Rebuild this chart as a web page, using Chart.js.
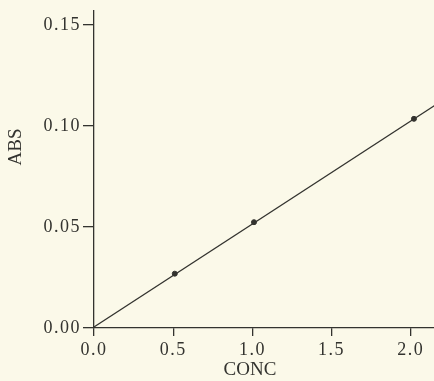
<!DOCTYPE html>
<html lang="en">
<head>
    <meta charset="UTF-8">
    <title>ABS vs CONC</title>
    <script src="https://cdn.jsdelivr.net/npm/chart.js"></script>
    <style>
        html, body {
            margin: 0;
            padding: 0;
            background-color: #fbf9e9;
            overflow: hidden;
        }
        .chart-box {
            position: relative;
            width: 520px;
            height: 381px;
        }
    </style>
</head>
<body>
    <div class="chart-box">
        <canvas id="absChart"></canvas>
    </div>

    <script>
        // measured standards
        const concValues = [0.51, 1.01, 2.02];
        const absValues = [0.0269, 0.0524, 0.1036];

        // calibration line end points
        const lineConc = [0, 2.5];
        const lineAbs = [0.0005, 0.128];

        // axis ticks
        const xTicks = [0, 0.5, 1.0, 1.5, 2.0, 2.5];
        const yTicks = [0, 0.05, 0.10, 0.15];

        const xTitle = 'CONC';
        const yTitle = 'ABS';

        const ink = '#33332f';
        const tickFont = { family: "'Liberation Serif', serif", size: 18, lineHeight: 1 };
        const titleFont = "19px 'Liberation Serif', serif";

        // spaced-out digits like the typewriter labels
        const spacing = {
            id: 'spacing',
            beforeLayout(chart) { chart.ctx.letterSpacing = '1.5px'; },
            beforeDraw(chart) { chart.ctx.letterSpacing = '1.5px'; }
        };

        // axis titles drawn by hand (no letter spacing, off-centre like the original)
        const axisTitles = {
            id: 'axisTitles',
            afterDraw(chart) {
                const c = chart.ctx;
                c.save();
                c.letterSpacing = '0px';
                c.fillStyle = ink;
                c.font = titleFont;
                c.textAlign = 'center';
                c.textBaseline = 'middle';
                c.fillText(xTitle, 250, 370);
                c.translate(16, 147);
                c.rotate(-Math.PI / 2);
                c.fillText(yTitle, 0, 0);
                c.restore();
            }
        };

        const ctx = document.getElementById('absChart').getContext('2d');
        const absChart = new Chart(ctx, {
            type: 'scatter',
            data: {
                datasets: [
                    {
                        label: 'fit',
                        data: lineConc.map((x, i) => ({ x: x, y: lineAbs[i] })),
                        showLine: true,
                        borderColor: ink,
                        borderWidth: 1.3,
                        pointRadius: 0
                    },
                    {
                        label: 'standards',
                        data: concValues.map((x, i) => ({ x: x, y: absValues[i] })),
                        pointRadius: 2.5,
                        backgroundColor: ink,
                        borderColor: ink
                    }
                ]
            },
            plugins: [spacing, axisTitles],
            options: {
                responsive: true,
                maintainAspectRatio: false,
                animation: false,
                layout: {
                    padding: { left: 40, right: 30, top: 7, bottom: 0 }
                },
                plugins: {
                    legend: { display: false },
                    tooltip: { enabled: false }
                },
                scales: {
                    x: {
                        type: 'linear',
                        min: 0,
                        max: 2.5,
                        afterBuildTicks: (scale) => {
                            scale.ticks = xTicks.map(v => ({ value: v }));
                        },
                        afterFit: (scale) => { scale.height = 53; },
                        border: { display: true, color: ink, width: 1.3 },
                        grid: {
                            drawOnChartArea: false,
                            drawTicks: true,
                            tickLength: 8,
                            color: ink,
                            lineWidth: 1.3
                        },
                        ticks: {
                            color: ink,
                            font: tickFont,
                            padding: 5,
                            maxRotation: 0,
                            callback: (v) => Number(v).toFixed(1)
                        }
                    },
                    y: {
                        type: 'linear',
                        min: 0,
                        max: 0.157,
                        afterBuildTicks: (scale) => {
                            scale.ticks = yTicks.map(v => ({ value: v }));
                        },
                        afterFit: (scale) => { scale.width = 54; },
                        border: { display: true, color: ink, width: 1.3 },
                        grid: {
                            drawOnChartArea: false,
                            drawTicks: true,
                            tickLength: 11,
                            color: ink,
                            lineWidth: 1.3
                        },
                        ticks: {
                            color: ink,
                            font: tickFont,
                            padding: 2,
                            callback: (v) => Number(v).toFixed(2)
                        }
                    }
                }
            }
        });
    </script>
</body>
</html>
